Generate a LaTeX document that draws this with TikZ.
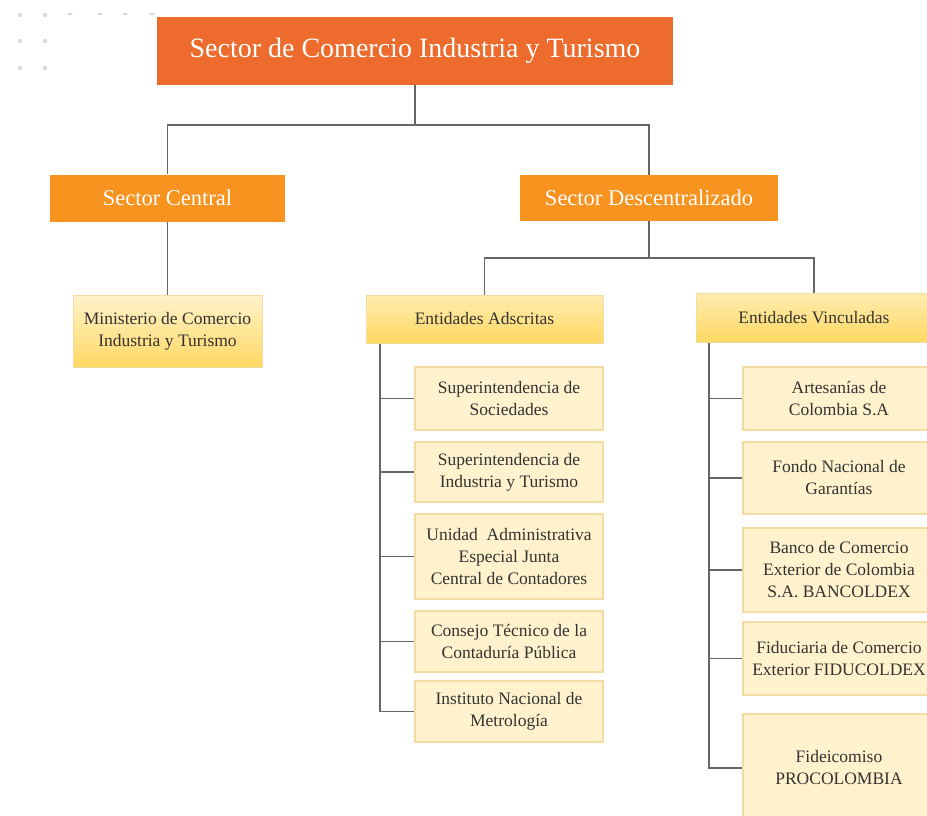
\documentclass[tikz,border=0pt]{standalone}
\usepackage{fontspec}
\setmainfont{Liberation Serif}
\definecolor{deeporange}{HTML}{EC6B2D}
\definecolor{midorange}{HTML}{F7931E}
\definecolor{paleyellow}{HTML}{FFF2CC}
\definecolor{goldyellow}{HTML}{FFD862}
\definecolor{headtop}{HTML}{FFEDB0}
\definecolor{boxedge}{HTML}{F3DCA2}
\definecolor{linkgray}{HTML}{666666}
\definecolor{textgray}{HTML}{333333}
\definecolor{dotgray}{HTML}{DADADA}
\begin{document}
\begin{tikzpicture}[x=1pt,y=-1pt,
  every node/.style={inner sep=0pt,align=center},
  titlebox/.style={fill=deeporange,text=white,font=\fontsize{28}{32}\selectfont},
  sectorbox/.style={fill=midorange,text=white,font=\fontsize{22.5}{26}\selectfont},
  gradbox/.style={draw=boxedge,line width=1pt,top color=paleyellow,bottom color=goldyellow,
    text=textgray,font=\fontsize{17.5}{22}\selectfont},
  headbox/.style={draw=boxedge,line width=1pt,top color=headtop,bottom color=goldyellow,
    text=textgray,font=\fontsize{17.5}{22}\selectfont},
  itembox/.style={draw=boxedge,line width=1.2pt,fill=paleyellow,
    text=textgray,font=\fontsize{17.5}{22}\selectfont},
  link/.style={draw=linkgray,line width=1.5pt},
  dot/.style={fill=dotgray,draw=none}]
\useasboundingbox (0,0) rectangle (927,815);

% decorative dot grid
\foreach \px in {20,45}{\foreach \py in {15,41,68}{\fill[dot] (\px,\py) circle (2.2);}}
\foreach \px in {70,100,125,152}{\fill[dot] (\px,14) ellipse (2.6 and 1.3);}

% top level
\node[titlebox,minimum width=516pt,minimum height=68pt] (top) at (415,51)
  {Sector de Comercio Industria y Turismo};

% sectors
\node[sectorbox,minimum width=235pt,minimum height=47pt] (sc) at (167.5,198) {Sector Central};
\node[sectorbox,minimum width=258pt,minimum height=46pt] (sd) at (649,198) {Sector Descentralizado};

% central sector
\node[gradbox,minimum width=189pt,minimum height=72pt] (min) at (167.5,331)
  {Ministerio de Comercio\\Industria y Turismo};

% decentralised sector headers
\node[headbox,minimum width=237pt,minimum height=48pt] (ea) at (484.5,319) {Entidades Adscritas};
\node[headbox,minimum width=236pt,minimum height=49pt] (ev) at (814,317.5) {Entidades Vinculadas};

% attached entities
\node[itembox,minimum width=188pt,minimum height=63pt] (a1) at (509,398.5)
  {Superintendencia de\\Sociedades};
\node[itembox,minimum width=188pt,minimum height=60pt] (a2) at (509,472)
  {Superintendencia de\\Industria y Turismo};
\node[itembox,minimum width=188pt,minimum height=85pt] (a3) at (509,556.5)
  {Unidad\ \ Administrativa\\Especial Junta\\Central de Contadores};
\node[itembox,minimum width=188pt,minimum height=61pt] (a4) at (509,641.5)
  {Consejo Técnico de la\\Contaduría Pública};
\node[itembox,minimum width=188pt,minimum height=61pt] (a5) at (509,711.5)
  {Instituto Nacional de\\Metrología};

% linked entities
\node[itembox,minimum width=192pt,minimum height=63pt] (v1) at (839,398.5)
  {Artesanías de\\Colombia S.A};
\node[itembox,minimum width=192pt,minimum height=72pt] (v2) at (839,478)
  {Fondo Nacional de\\Garantías};
\node[itembox,minimum width=192pt,minimum height=84pt] (v3) at (839,570)
  {Banco de Comercio\\Exterior de Colombia\\S.A. BANCOLDEX};
\node[itembox,minimum width=192pt,minimum height=73pt] (v4) at (839,658.5)
  {Fiduciaria de Comercio\\Exterior FIDUCOLDEX};
\node[itembox,minimum width=192pt,minimum height=108pt] (v5) at (839,768)
  {Fideicomiso\\PROCOLOMBIA};

% bus lines
\coordinate (busA) at (0,125);
\coordinate (busB) at (0,258);
\coordinate (spineA) at (380,0);
\coordinate (spineV) at (709,0);

\draw[link] (top.south) -- (top.south |- busA) -| (sc.north);
\draw[link] (top.south |- busA) -| (sd.north);
\draw[link] (sc.south) -- (min.north);
\draw[link] (sd.south) -- (sd.south |- busB) -| (ea.north);
\draw[link] (sd.south |- busB) -| (ev.north);

% spine of attached entities
\draw[link] (spineA |- ea.south) |- (a5.west);
\foreach \n in {a1,a2,a3,a4}{\draw[link] (spineA |- \n.west) -- (\n.west);}

% spine of linked entities
\draw[link] (spineV |- ev.south) |- (v5.west);
\foreach \n in {v1,v2,v3,v4}{\draw[link] (spineV |- \n.west) -- (\n.west);}
\end{tikzpicture}
\end{document}
